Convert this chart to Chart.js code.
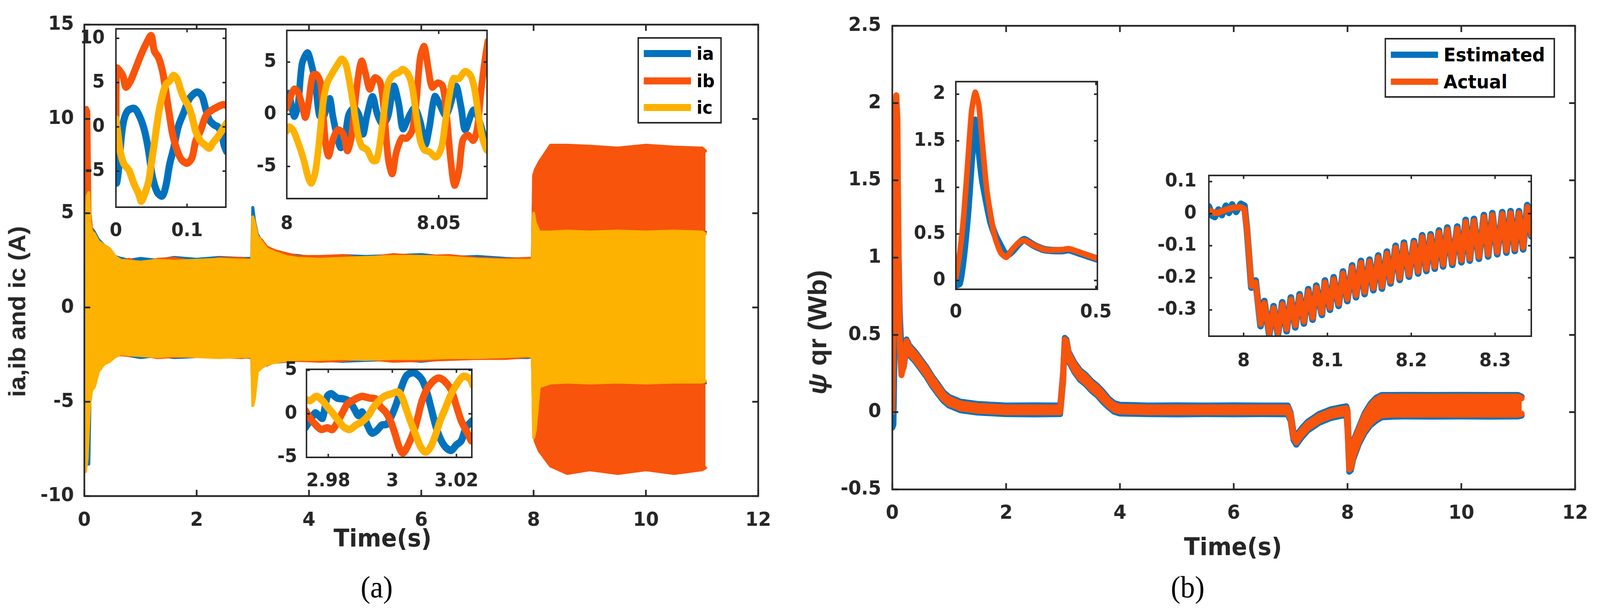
<!DOCTYPE html>
<html>
<head>
<meta charset="utf-8">
<script src="https://cdn.jsdelivr.net/npm/chart.js@4.4.1/dist/chart.umd.min.js"></script>
<style>
  html, body { margin: 0; padding: 0; background: #fff; overflow: hidden; }
  #page { position: relative; width: 4307px; height: 1563px; overflow: hidden; background: #fff; transform-origin: 0 0; }
  #page canvas { position: absolute; }
  .txt { position: absolute; white-space: nowrap; color: #262626; transform: translate(-50%, -50%); line-height: 1; }
  .rot { transform: translate(-50%, -50%) rotate(-90deg); }
  .legend { position: absolute; background: #fff; border: 4px solid #262626; box-sizing: border-box; }
  .legend .row { position: absolute; display: flex; align-items: center; height: 60px; }
  .legend .sw { display: inline-block; width: 127px; margin-right: 15px; }
  .legend .lab { font-family: 'DejaVu Sans', sans-serif; font-weight: bold; color: #000; }
</style>
</head>
<body>
<div id="page"></div>
<script>
// ---- colours ----
const BLUE = '#0072BD', ORANGE = '#F8540C', YELLOW = '#FDB100';

// ---- (a) main: phase current envelopes (A) ----
const tA = [0, 0.02, 0.05, 0.08, 0.1, 0.13, 0.18, 0.25, 0.35, 0.45, 0.55, 0.65, 0.8, 1.0, 1.3, 1.6, 2.0, 2.4, 2.8, 2.98,
  3.0, 3.03, 3.08, 3.15, 3.25, 3.4, 3.6, 3.8, 4.2, 4.6, 5.0, 5.5, 6.0, 6.5, 7.0, 7.5, 7.9, 7.98, 8.0, 8.03,
  8.1, 8.3, 8.6, 9.0, 9.5, 10.0, 10.5, 11.0, 11.06];
const iaHi = [0, 6.5, 5.0, 4.3, 4.2, 4.2, 4.0, 3.6, 3.3, 3.1, 2.7, 2.6, 2.5, 2.6, 2.5, 2.65, 2.55, 2.65, 2.6, 2.6,
  5.3, 4.6, 3.9, 3.5, 3.1, 2.9, 2.8, 2.75, 2.6, 2.75, 2.7, 2.75, 2.8, 2.65, 2.7, 2.6, 2.55, 2.6, 6.0, 5.0,
  4.2, 4.0, 4.0, 4.0, 4.0, 4.0, 4.0, 4.0, 4.0];
const iaLo = [0, -6.5, -7.5, -8.3, -5.0, -4.3, -4.0, -3.2, -2.9, -2.8, -2.6, -2.45, -2.55, -2.65, -2.55, -2.65, -2.6, -2.6, -2.6, -2.65,
  -4.6, -4.3, -3.2, -3.1, -2.95, -2.9, -2.85, -2.8, -2.8, -2.85, -2.8, -2.75, -2.85, -2.7, -2.7, -2.65, -2.65, -2.6, -6.0, -5.0,
  -4.2, -4.0, -4.0, -4.0, -4.0, -4.0, -4.0, -4.0, -4.0];
const ibHi = [0, 10.6, 10.6, 10.4, 5.0, 4.1, 3.9, 3.4, 3.2, 3.0, 2.6, 2.45, 2.55, 2.3, 2.55, 2.6, 2.4, 2.6, 2.6, 2.5,
  4.0, 4.2, 3.6, 3.6, 3.2, 3.0, 2.85, 2.7, 2.7, 2.75, 2.6, 2.8, 2.7, 2.75, 2.6, 2.55, 2.6, 2.6, 7.0, 7.3,
  7.7, 8.6, 8.6, 8.55, 8.45, 8.6, 8.5, 8.45, 8.3];
const ibLo = [0, -1.0, -4.5, -4.4, -4.3, -4.2, -4.0, -3.3, -2.95, -2.8, -2.55, -2.5, -2.55, -2.5, -2.65, -2.6, -2.55, -2.6, -2.65, -2.6,
  -4.5, -4.4, -3.3, -3.0, -3.05, -2.85, -2.85, -2.8, -2.85, -2.8, -2.7, -2.85, -2.8, -2.75, -2.7, -2.7, -2.6, -2.6, -6.5, -7.1,
  -7.6, -8.4, -8.8, -8.6, -8.8, -8.6, -8.8, -8.6, -8.5];
const icHi = [0, 3.0, 5.9, 6.1, 4.5, 4.0, 3.9, 3.5, 3.3, 3.1, 2.7, 2.5, 2.45, 2.4, 2.5, 2.45, 2.5, 2.55, 2.5, 2.5,
  4.8, 4.5, 3.8, 3.5, 3.1, 2.9, 2.7, 2.6, 2.55, 2.6, 2.65, 2.7, 2.7, 2.65, 2.55, 2.5, 2.5, 2.5, 5.0, 4.5,
  4.0, 4.0, 4.05, 4.0, 4.05, 4.0, 4.05, 4.0, 3.9];
const icLo = [0, -8.7, -8.0, -6.0, -5.0, -4.4, -4.2, -3.4, -3.0, -2.85, -2.6, -2.45, -2.5, -2.55, -2.6, -2.55, -2.6, -2.65, -2.6, -2.6,
  -5.2, -4.8, -3.4, -3.2, -3.0, -2.9, -2.8, -2.75, -2.75, -2.7, -2.75, -2.7, -2.7, -2.65, -2.65, -2.6, -2.55, -2.6, -6.9, -6.5,
  -4.2, -4.0, -3.95, -4.0, -3.95, -4.0, -3.95, -3.95, -3.9];

// ---- (a) inset 1: start-up, 0..0.155 s ----
const ins1TA = [0, 0.0009, 0.0035, 0.0078, 0.0113, 0.0165, 0.0261, 0.0339, 0.0409, 0.0461, 0.0513, 0.0582, 0.0652, 0.0704,
  0.0756, 0.0809, 0.0878, 0.0948, 0.1035, 0.1139, 0.1209, 0.1261, 0.1313, 0.1382, 0.1435, 0.1487, 0.1521, 0.1556];
const ins1Ia = [0.1, -6.3, -5.0, -1.0, 0.8, 1.8, 2.07, 1.07, -0.64, -2.8, -5.6, -7.4, -7.8, -6.6,
  -4.2, -2.5, 0.07, 1.5, 3.2, 3.93, 3.5, 2.07, 0.79, 0.21, 0.0, -0.79, -2.07, -2.79];
const ins1TB = [0, 0.0009, 0.0096, 0.0139, 0.02, 0.0287, 0.0356, 0.0426, 0.0496, 0.0539, 0.06, 0.0652, 0.0687, 0.0722,
  0.0756, 0.0791, 0.0843, 0.0913, 0.1, 0.1069, 0.1122, 0.1191, 0.1261, 0.133, 0.1417, 0.1504, 0.1574];
const ins1Ib = [0.6, 6.6, 5.8, 4.5, 5.1, 6.8, 8.2, 9.4, 10.3, 8.6, 7.8, 6.4, 4.8, 2.9,
  1.2, -0.6, -2.2, -3.6, -4.1, -3.5, -1.6, -0.4, 1.2, 1.8, 2.2, 2.5, 2.4];
const ins1TC = [0, 0.0026, 0.0061, 0.0113, 0.0183, 0.0252, 0.0322, 0.0356, 0.0409, 0.0461, 0.0496, 0.0548, 0.06, 0.0652, 0.0704,
  0.0756, 0.0809, 0.0861, 0.0913, 0.0965, 0.1017, 0.1069, 0.1122, 0.1191, 0.1261, 0.1313, 0.1365, 0.1435, 0.1504, 0.1565];
const ins1Ic = [0.9, -0.6, -2.8, -4.2, -4.9, -6.4, -7.6, -8.4, -7.5, -6.1, -4.2, -1.4, 1.5, 3.5, 4.8,
  5.2, 5.8, 5.4, 4.1, 3.1, 2.4, 1.2, -0.5, -1.6, -2.1, -2.4, -1.8, -1.1, -0.2, 0.5];

// ---- (a) inset 2: after the step at 8 s ----
const ins2TA = [8.0, 8.0007, 8.0024, 8.0037, 8.005, 8.0068, 8.0081, 8.0094, 8.0107, 8.012, 8.0133, 8.0142, 8.0151, 8.0164, 8.0177,
  8.019, 8.0203, 8.0221, 8.0238, 8.0251, 8.0264, 8.0282, 8.0299, 8.0317, 8.0334, 8.0352, 8.0369, 8.0382, 8.0404, 8.0421,
  8.0439, 8.0456, 8.0469, 8.0487, 8.0504, 8.0522, 8.0535, 8.0557, 8.0574, 8.0587, 8.0614, 8.0631, 8.0662];
const ins2Ia = [1.3, 2.0, -0.2, 0.9, 4.8, 5.9, 4.8, 3.0, -0.1, -0.3, 0.9, 1.5, -0.1, -1.9, -3.2,
  -2.5, -0.1, 0.6, -0.1, -1.9, -0.1, 1.7, -0.1, -1.0, -0.1, 2.7, 0.9, -1.4, -0.1, 0.6,
  -0.7, -2.9, -1.3, 1.7, 0.9, -0.1, 0.6, 2.7, 0.6, -1.5, 0.4, -0.4, -3.5];
const ins2TB = [8.0, 8.0007, 8.0024, 8.0037, 8.005, 8.0061, 8.0072, 8.0085, 8.0098, 8.0111, 8.012, 8.0129, 8.0138, 8.0151, 8.0168,
  8.0186, 8.0199, 8.0212, 8.0225, 8.0238, 8.0247, 8.026, 8.0273, 8.029, 8.0308, 8.0321, 8.0334, 8.0347, 8.036, 8.0378,
  8.0395, 8.0413, 8.0426, 8.0439, 8.0452, 8.0465, 8.0478, 8.0496, 8.0513, 8.0526, 8.0539, 8.0552, 8.0566, 8.0579, 8.0596,
  8.0614, 8.0627, 8.064, 8.0653, 8.0662];
const ins2Ib = [0.6, 1.2, 2.4, 2.1, 0.9, -0.3, 1.2, 3.7, 3.8, 3.0, -0.1, -3.1, -4.0, -2.5, -1.5,
  -1.9, -3.5, -2.3, 1.2, 4.2, 5.1, 3.8, 2.4, 3.5, 3.0, -0.1, -4.3, -5.7, -3.7, -2.3,
  -2.3, -1.5, 1.2, 5.4, 6.5, 4.5, 2.6, 3.0, 2.7, -0.1, -4.3, -6.8, -5.5, -2.5, -2.0,
  -2.5, -1.3, 2.4, 5.4, 7.0];
const ins2TC = [8.0, 8.0007, 8.002, 8.0037, 8.0055, 8.0072, 8.0081, 8.0094, 8.0107, 8.012, 8.0133, 8.0151, 8.0168, 8.0181, 8.0194,
  8.0207, 8.0221, 8.0234, 8.0247, 8.0264, 8.0282, 8.0295, 8.0308, 8.0321, 8.0334, 8.0352, 8.0369, 8.0382, 8.04, 8.0413,
  8.0426, 8.0439, 8.0452, 8.0469, 8.0491, 8.0509, 8.0522, 8.0535, 8.0548, 8.0566, 8.0587, 8.0605, 8.0618, 8.0631, 8.0644, 8.0657];
const ins2Ic = [-1.6, -1.2, -1.5, -2.7, -4.3, -6.2, -6.6, -5.5, -2.5, 1.2, 3.0, 4.0, 4.8, 5.3, 4.8,
  3.0, 0.5, -1.9, -3.1, -3.4, -4.4, -4.4, -2.5, 0.5, 3.0, 3.8, 4.0, 4.3, 3.8, 2.6,
  -0.1, -2.5, -3.4, -3.6, -4.1, -3.2, -0.7, 1.8, 3.4, 3.4, 4.1, 3.7, 2.4, -0.1, -2.3, -3.4];

// ---- (a) inset 3: around the step at 3 s ----
const ins3TA = [2.9728, 2.9743, 2.9759, 2.977, 2.9782, 2.9797, 2.9809, 2.9828, 2.9848, 2.9867, 2.9882, 2.9894, 2.9906, 2.9921, 2.9936,
  2.9952, 2.9967, 2.9983, 2.9998, 3.0014, 3.0029, 3.0045, 3.0068, 3.0091, 3.0106, 3.0122, 3.0137, 3.0153, 3.0168, 3.0184,
  3.0199, 3.0215, 3.023, 3.0249];
const ins3Ia = [-1.6, -0.8, 0.1, -0.2, -0.5, 2.0, 2.3, 1.8, 1.7, 1.4, 0.5, -0.2, 0.2, -1.2, -2.2,
  -1.9, -1.3, -1.2, -0.2, 1.3, 3.1, 4.4, 4.7, 4.0, 2.7, 0.5, -1.6, -3.1, -3.9, -4.2,
  -3.6, -3.1, -1.6, -0.8];
const ins3TB = [2.9728, 2.9743, 2.9759, 2.9778, 2.9797, 2.9813, 2.9828, 2.9844, 2.9859, 2.9875, 2.989, 2.9906, 2.9929, 2.9948, 2.9963,
  2.9979, 2.9994, 3.001, 3.0021, 3.0033, 3.0049, 3.0068, 3.0079, 3.0091, 3.0106, 3.0126, 3.0145, 3.0164, 3.0184, 3.0199,
  3.0215, 3.023, 3.0246];
const ins3Ib = [0.4, -0.5, -1.2, -1.8, -1.6, -1.8, -1.0, 0.1, 1.1, 1.5, 1.8, 2.0, 1.8, 1.7, 0.8,
  0.2, -0.8, -2.5, -3.8, -4.5, -3.6, -1.9, -0.5, 1.3, 2.7, 3.7, 4.1, 3.7, 2.7, 1.0,
  -0.8, -1.9, -3.1];
const ins3TC = [2.9728, 2.9743, 2.9763, 2.9782, 2.9797, 2.9813, 2.9828, 2.9848, 2.9867, 2.9886, 2.9906, 2.9925, 2.994, 2.9956, 2.9975,
  2.9998, 3.0018, 3.0029, 3.0041, 3.0056, 3.0072, 3.0087, 3.0103, 3.0118, 3.0134, 3.0149, 3.0164, 3.0184, 3.0203, 3.0222,
  3.0242, 3.0251];
const ins3Ic = [1.7, 1.5, 2.0, 1.5, 0.8, 0.1, -0.6, -1.5, -1.8, -1.3, -0.9, -0.2, 0.7, 1.4, 2.0,
  2.3, 2.5, 2.0, 0.8, -0.8, -2.3, -3.7, -4.4, -3.9, -2.5, -0.8, 0.5, 2.3, 3.5, 4.3,
  4.0, 3.3];

// ---- (b) main: rotor flux envelopes (Wb) ----
const tB = [0, 0.02, 0.05, 0.07, 0.09, 0.11, 0.13, 0.16, 0.2, 0.25, 0.3, 0.4, 0.5, 0.6, 0.7, 0.8, 0.9, 1.0, 1.2, 1.5,
  2.0, 2.5, 2.95, 3.0, 3.03, 3.06, 3.1, 3.2, 3.3, 3.4, 3.5, 3.6, 3.7, 3.8, 3.9, 4.0, 4.5, 5.0, 5.5, 6.0,
  6.5, 6.95, 7.0, 7.05, 7.1, 7.2, 7.3, 7.5, 7.7, 7.9, 7.98, 8.0, 8.03, 8.06, 8.1, 8.2, 8.3, 8.4, 8.5, 8.6,
  8.8, 9.0, 9.5, 10.0, 10.5, 11.0, 11.06];
const estLo = [-0.1, -0.08, 0.7, 1.7, 1.4, 1.0, 0.6, 0.35, 0.29, 0.41, 0.37, 0.33, 0.28, 0.23, 0.17, 0.12, 0.073, 0.043, 0.013, -0.002,
  -0.012, -0.014, -0.012, 0.19, 0.43, 0.41, 0.33, 0.26, 0.21, 0.18, 0.14, 0.11, 0.068, 0.033, 0.003, -0.008, -0.012, -0.014, -0.012, -0.013,
  -0.012, -0.013, -0.057, -0.18, -0.21, -0.16, -0.118, -0.068, -0.038, -0.022, -0.018, -0.115, -0.385, -0.375, -0.305, -0.205, -0.135, -0.085, -0.055, -0.033,
  -0.028, -0.027, -0.028, -0.027, -0.028, -0.027, -0.022];
const estHi = [0.0, 0.1, 0.8, 1.75, 1.5, 1.05, 0.65, 0.4, 0.35, 0.47, 0.43, 0.39, 0.34, 0.29, 0.23, 0.18, 0.127, 0.097, 0.067, 0.052,
  0.042, 0.043, 0.042, 0.25, 0.48, 0.47, 0.39, 0.32, 0.27, 0.24, 0.2, 0.17, 0.132, 0.087, 0.057, 0.047, 0.042, 0.043, 0.042, 0.043,
  0.042, 0.042, -0.003, -0.123, -0.153, -0.103, -0.063, -0.013, 0.017, 0.032, 0.037, 0.01, -0.268, -0.248, -0.188, -0.098, -0.008, 0.052, 0.092, 0.11,
  0.11, 0.111, 0.11, 0.111, 0.11, 0.11, 0.1];
const actLo = [0.0, 0.6, 1.8, 2.0, 1.8, 0.9, 0.42, 0.24, 0.3, 0.42, 0.38, 0.34, 0.29, 0.24, 0.18, 0.13, 0.085, 0.055, 0.025, 0.01,
  0.0, 0.0, 0.0, 0.2, 0.44, 0.42, 0.34, 0.27, 0.22, 0.19, 0.15, 0.12, 0.08, 0.045, 0.015, 0.005, 0.0, 0.0, 0.0, 0.0,
  0.0, 0.0, -0.045, -0.165, -0.195, -0.145, -0.105, -0.055, -0.025, -0.01, -0.005, -0.1, -0.37, -0.36, -0.29, -0.19, -0.12, -0.07, -0.04, -0.02,
  -0.015, -0.015, -0.015, -0.015, -0.015, -0.015, -0.01];
const actHi = [0.02, 0.7, 1.9, 2.05, 1.9, 1.0, 0.48, 0.28, 0.34, 0.46, 0.42, 0.38, 0.33, 0.28, 0.22, 0.17, 0.115, 0.085, 0.055, 0.04,
  0.03, 0.03, 0.03, 0.24, 0.47, 0.46, 0.38, 0.31, 0.26, 0.23, 0.19, 0.16, 0.12, 0.075, 0.045, 0.035, 0.03, 0.03, 0.03, 0.03,
  0.03, 0.03, -0.015, -0.135, -0.165, -0.115, -0.075, -0.025, 0.005, 0.02, 0.025, 0.0, -0.28, -0.26, -0.2, -0.11, -0.02, 0.04, 0.08, 0.1,
  0.1, 0.1, 0.1, 0.1, 0.1, 0.1, 0.09];

// ---- (b) inset 4: start-up, 0..0.5 s ----
const ins4TE = [0, 0.013, 0.028, 0.044, 0.056, 0.069, 0.079, 0.094, 0.109, 0.125, 0.14, 0.16, 0.18, 0.2, 0.226, 0.244, 0.277, 0.318, 0.379, 0.404, 0.445, 0.505];
const ins4Est = [-0.05, -0.03, 0.27, 0.78, 1.3, 1.72, 1.49, 1.1, 0.85, 0.62, 0.49, 0.37, 0.27, 0.31, 0.4, 0.44, 0.38, 0.33, 0.32, 0.33, 0.29, 0.23];
const ins4TA = [0, 0.013, 0.028, 0.044, 0.056, 0.069, 0.082, 0.094, 0.109, 0.125, 0.14, 0.16, 0.18, 0.2, 0.226, 0.244, 0.277, 0.318, 0.379, 0.404, 0.445, 0.505];
const ins4Act = [0.02, 0.27, 0.69, 1.33, 1.81, 2.02, 1.88, 1.49, 1.01, 0.69, 0.46, 0.3, 0.25, 0.33, 0.41, 0.43, 0.38, 0.33, 0.33, 0.34, 0.3, 0.235];

// ---- (b) inset 5: the step at 8 s ----
const ins5T = [7.9585, 7.9625, 7.9656, 7.970, 7.974, 7.9789, 7.9825, 7.9863, 7.991, 7.9966, 8.001, 8.004, 8.0069, 8.0092,
  8.0143, 8.0202, 8.0247, 8.0306, 8.0357, 8.0409, 8.0461, 8.0513, 8.0564, 8.0616, 8.0668, 8.0719, 8.0771, 8.0823, 8.0867, 8.0934,
  8.097, 8.103, 8.1074, 8.1133, 8.1185, 8.1236, 8.1295, 8.134, 8.1399, 8.1443, 8.1502, 8.1547, 8.1606, 8.165, 8.1709, 8.1753,
  8.1813, 8.1863, 8.1913, 8.1972, 8.2032, 8.2081, 8.2131, 8.218, 8.2231, 8.228, 8.233, 8.238, 8.243, 8.249, 8.2549, 8.2599,
  8.2649, 8.2698, 8.2748, 8.2807, 8.2867, 8.2917, 8.2967, 8.3026, 8.3086, 8.3135, 8.3185, 8.3235, 8.3285, 8.3334, 8.3384, 8.3432];
const ins5Est = [0.022, -0.006, -0.01, 0.012, -0.004, 0.024, 0.003, 0.028, 0.006, 0.03, 0.024, -0.05, -0.15, -0.23,
  -0.209, -0.35, -0.273, -0.377, -0.289, -0.377, -0.277, -0.366, -0.262, -0.354, -0.252, -0.342, -0.236, -0.33, -0.225, -0.315,
  -0.209, -0.299, -0.199, -0.287, -0.181, -0.272, -0.162, -0.26, -0.148, -0.25, -0.144, -0.238, -0.131, -0.233, -0.119, -0.217,
  -0.101, -0.206, -0.091, -0.196, -0.086, -0.186, -0.068, -0.178, -0.065, -0.171, -0.053, -0.164, -0.044, -0.159, -0.041, -0.151,
  -0.02, -0.146, -0.017, -0.14, -0.005, -0.133, 0.001, -0.126, 0.004, -0.121, 0.007, -0.116, 0.007, -0.111, 0.026, -0.07];
const ins5Act = [0.010, 0.006, 0.002, 0.003, 0.008, 0.012, 0.015, 0.018, 0.019, 0.020, 0.014, -0.049, -0.146, -0.225,
  -0.215, -0.344, -0.279, -0.371, -0.295, -0.371, -0.283, -0.36, -0.268, -0.348, -0.258, -0.336, -0.242, -0.324, -0.231, -0.309,
  -0.215, -0.293, -0.205, -0.281, -0.187, -0.266, -0.168, -0.254, -0.154, -0.244, -0.15, -0.232, -0.137, -0.227, -0.125, -0.211,
  -0.107, -0.2, -0.097, -0.19, -0.092, -0.18, -0.074, -0.172, -0.071, -0.165, -0.059, -0.158, -0.05, -0.153, -0.047, -0.145,
  -0.026, -0.14, -0.023, -0.134, -0.011, -0.127, -0.005, -0.12, -0.002, -0.115, 0.001, -0.11, 0.001, -0.105, 0.02, -0.065];

// ---- ticks ----
const mainXTicks = [0, 2, 4, 6, 8, 10, 12];
const mainAYTicks = [-10, -5, 0, 5, 10, 15];
const mainBYTicks = [-0.5, 0, 0.5, 1, 1.5, 2, 2.5];
const ins1XTicks = [0, 0.1], ins1YTicks = [-5, 0, 5, 10];
const ins2XTicks = [8, 8.05], ins2YTicks = [-5, 0, 5];
const ins3XTicks = [2.98, 3, 3.02], ins3YTicks = [-5, 0, 5];
const ins4XTicks = [0, 0.5], ins4YTicks = [0, 0.5, 1, 1.5, 2];
const ins5XTicks = [8, 8.1, 8.2, 8.3], ins5YTicks = [-0.3, -0.2, -0.1, 0, 0.1];

const legendA = ['ia', 'ib', 'ic'], legendAColors = [BLUE, ORANGE, YELLOW];
const legendB = ['Estimated', 'Actual'], legendBColors = [BLUE, ORANGE];

// ---------------------------------------------------------------
Chart.defaults.font.family = "'DejaVu Sans', sans-serif";
const page = document.getElementById('page');
// fit the fixed 4307x1563 layout to whatever viewport the page gets
const sx = (window.innerWidth || 4307) / 4307, sy = (window.innerHeight || 1563) / 1563;
if (Math.abs(sx - 1) > 0.002 || Math.abs(sy - 1) > 0.002) page.style.transform = 'scale(' + sx + ',' + sy + ')';

function pts(ts, vs) { return ts.map((t, i) => ({ x: t, y: vs[i] })); }

function line(ts, vs, color, width, tension) {
  return { data: pts(ts, vs), borderColor: color, borderWidth: width, tension: tension || 0, fill: false, pointRadius: 0 };
}

// envelope band = lower line + upper line filled down to it
function band(ts, lo, hi, color, width) {
  return [
    { data: pts(ts, lo), borderColor: color, borderWidth: width, fill: false, pointRadius: 0 },
    { data: pts(ts, hi), borderColor: color, borderWidth: width, backgroundColor: color, fill: '-1', pointRadius: 0 }
  ];
}

// MATLAB-style box with inward ticks on all four sides
function framePlugin(len, lw, white) {
  return {
    id: 'frame',
    beforeDraw(chart) {
      if (!white) return;
      const a = chart.chartArea, ctx = chart.ctx;
      ctx.save(); ctx.fillStyle = '#fff';
      ctx.fillRect(a.left, a.top, a.right - a.left, a.bottom - a.top);
      ctx.restore();
    },
    afterDatasetsDraw(chart) {
      const { ctx, chartArea: a, scales: { x, y } } = chart;
      ctx.save();
      ctx.strokeStyle = '#262626';
      ctx.lineWidth = lw;
      ctx.beginPath();
      x.ticks.forEach(t => {
        const p = x.getPixelForValue(t.value);
        ctx.moveTo(p, a.bottom); ctx.lineTo(p, a.bottom - len);
        ctx.moveTo(p, a.top); ctx.lineTo(p, a.top + len);
      });
      y.ticks.forEach(t => {
        const p = y.getPixelForValue(t.value);
        ctx.moveTo(a.left, p); ctx.lineTo(a.left + len, p);
        ctx.moveTo(a.right, p); ctx.lineTo(a.right - len, p);
      });
      ctx.stroke();
      ctx.strokeRect(a.left, a.top, a.right - a.left, a.bottom - a.top);
      ctx.restore();
    }
  };
}

function axes(o) {
  const YW = 180, XH = 110, PT = 45, PR = 75;
  const w = o.box.r - o.box.l + YW + PR, h = o.box.b - o.box.t + PT + XH;
  const cv = document.createElement('canvas');
  cv.width = w; cv.height = h;
  cv.style.left = (o.box.l - YW) + 'px';
  cv.style.top = (o.box.t - PT) + 'px';
  cv.style.width = w + 'px'; cv.style.height = h + 'px';
  page.appendChild(cv);
  // later datasets are painted on top, as in the MATLAB plot order
  o.datasets.forEach((d, i) => { d.order = o.datasets.length - i; });
  const tickFont = { size: o.font, weight: 'bold' };
  return new Chart(cv, {
    type: 'line',
    data: { datasets: o.datasets },
    options: {
      responsive: false, animation: false, devicePixelRatio: 1,
      layout: { padding: { left: 0, top: PT, right: PR, bottom: 0 } },
      elements: { line: { borderCapStyle: 'round', borderJoinStyle: 'round' }, point: { radius: 0 } },
      plugins: { legend: { display: false }, tooltip: { enabled: false } },
      scales: {
        x: {
          type: 'linear', min: o.xr[0], max: o.xr[1],
          grid: { display: false, drawTicks: false }, border: { display: false },
          afterBuildTicks: s => { s.ticks = o.xt.map(v => ({ value: v })); },
          afterFit: s => { s.height = XH; },
          ticks: { autoSkip: false, maxRotation: 0, minRotation: 0, padding: o.gap[1], font: tickFont, color: '#262626', callback: v => String(v) }
        },
        y: {
          type: 'linear', min: o.yr[0], max: o.yr[1],
          grid: { display: false, drawTicks: false }, border: { display: false },
          afterBuildTicks: s => { s.ticks = o.yt.map(v => ({ value: v })); },
          afterFit: s => { s.width = YW; },
          ticks: { autoSkip: false, padding: o.gap[0], font: tickFont, color: '#262626', callback: v => String(v) }
        }
      }
    },
    plugins: [framePlugin(o.tick, o.lw, o.white)]
  });
}

// ---- panel (a) ----
axes({
  box: { l: 227, t: 50, r: 2041, b: 1269 }, xr: [0, 12], yr: [-10, 15], xt: mainXTicks, yt: mainAYTicks,
  font: 50, gap: [28, 33], tick: 16, lw: 4.5, white: false,
  datasets: [].concat(band(tA, iaLo, iaHi, BLUE, 8), band(tA, ibLo, ibHi, ORANGE, 8), band(tA, icLo, icHi, YELLOW, 8))
});
// ---- panel (b) ----
axes({
  box: { l: 2402, t: 51, r: 4240, b: 1252 }, xr: [0, 12], yr: [-0.5, 2.5], xt: mainXTicks, yt: mainBYTicks,
  font: 50, gap: [30, 32], tick: 16, lw: 4.5, white: false,
  datasets: [].concat(band(tB, estLo, estHi, BLUE, 16), band(tB, actLo, actHi, ORANGE, 16))
});
// ---- insets (a) ----
axes({
  box: { l: 312, t: 60, r: 608, b: 530 }, xr: [0, 0.1546], yr: [-9.07, 11.07], xt: ins1XTicks, yt: ins1YTicks,
  font: 48, gap: [30, 33], tick: 9, lw: 4, white: true,
  datasets: [line(ins1TA, ins1Ia, BLUE, 19, 0.3), line(ins1TB, ins1Ib, ORANGE, 19, 0.3), line(ins1TC, ins1Ic, YELLOW, 19, 0.3)]
});
axes({
  box: { l: 772, t: 66, r: 1311, b: 508 }, xr: [8, 8.0659], yr: [-8.08, 8.03], xt: ins2XTicks, yt: ins2YTicks,
  font: 48, gap: [28, 37], tick: 9, lw: 4, white: true,
  datasets: [line(ins2TA, ins2Ia, BLUE, 18, 0.3), line(ins2TB, ins2Ib, ORANGE, 18, 0.3), line(ins2TC, ins2Ic, YELLOW, 18, 0.3)]
});
axes({
  box: { l: 825, t: 936, r: 1270, b: 1170 }, xr: [2.9732, 3.0248], yr: [-5, 5.1], xt: ins3XTicks, yt: ins3YTicks,
  font: 48, gap: [25, 33], tick: 9, lw: 4, white: true,
  datasets: [line(ins3TA, ins3Ia, BLUE, 19, 0.3), line(ins3TB, ins3Ib, ORANGE, 19, 0.3), line(ins3TC, ins3Ic, YELLOW, 19, 0.3)]
});
// ---- insets (b) ----
axes({
  box: { l: 2573, t: 197, r: 2954, b: 740 }, xr: [0, 0.5053], yr: [-0.094, 2.135], xt: ins4XTicks, yt: ins4YTicks,
  font: 48, gap: [28, 31], tick: 9, lw: 4, white: true,
  datasets: [line(ins4TE, ins4Est, BLUE, 19, 0.2), line(ins4TA, ins4Act, ORANGE, 15, 0.2)]
});
axes({
  box: { l: 3254, t: 432, r: 4122, b: 860 }, xr: [7.9585, 8.3432], yr: [-0.382, 0.119], xt: ins5XTicks, yt: ins5YTicks,
  font: 48, gap: [33, 36], tick: 9, lw: 4, white: true,
  datasets: [line(ins5T, ins5Est, BLUE, 18, 0), line(ins5T, ins5Act, ORANGE, 16, 0)]
});

// ---- text: axis titles and captions ----
function text(html, x, y, css, rotate) {
  const d = document.createElement('div');
  d.className = 'txt' + (rotate ? ' rot' : '');
  d.style.left = x + 'px'; d.style.top = y + 'px';
  d.style.cssText += css;
  d.innerHTML = html;
  page.appendChild(d);
}
const titleCss = "font-family:'DejaVu Sans',sans-serif;font-weight:bold;font-size:62px;";
const yTitleCss = "font-family:'Liberation Sans',sans-serif;font-weight:bold;";
const capCss = "font-family:'Liberation Serif',serif;font-size:78px;color:#000;";
text('ia,ib and ic (A)', 46, 797, yTitleCss + 'font-size:64px;', true);
text('<i>\u03C8</i> qr (Wb)', 2200, 850, yTitleCss + 'font-size:70px;', true);
text('Time(s)', 1030, 1377, titleCss, false);
text('Time(s)', 3319, 1399, titleCss, false);
text('(a)', 1014, 1502, capCss, false);
text('(b)', 3197, 1502, capCss, false);

// ---- legends ----
function legend(x, y, w, h, labels, colors, rowTops, swH, fontSize) {
  const box = document.createElement('div');
  box.className = 'legend';
  box.style.left = x + 'px'; box.style.top = y + 'px';
  box.style.width = w + 'px'; box.style.height = h + 'px';
  labels.forEach((lab, i) => {
    const row = document.createElement('div');
    row.className = 'row';
    row.style.left = '13px'; row.style.top = rowTops[i] + 'px';
    const sw = document.createElement('span');
    sw.className = 'sw'; sw.style.height = swH + 'px'; sw.style.background = colors[i];
    const t = document.createElement('span');
    t.className = 'lab'; t.style.fontSize = fontSize + 'px'; t.textContent = lab;
    row.appendChild(sw); row.appendChild(t);
    box.appendChild(row);
  });
  page.appendChild(box);
}
legend(1716, 95, 227, 221, legendA, legendAColors, [8, 78, 146], 18, 46);
legend(3727, 97, 459, 153, legendB, legendBColors, [9, 78], 16, 48);
</script>
</body>
</html>
